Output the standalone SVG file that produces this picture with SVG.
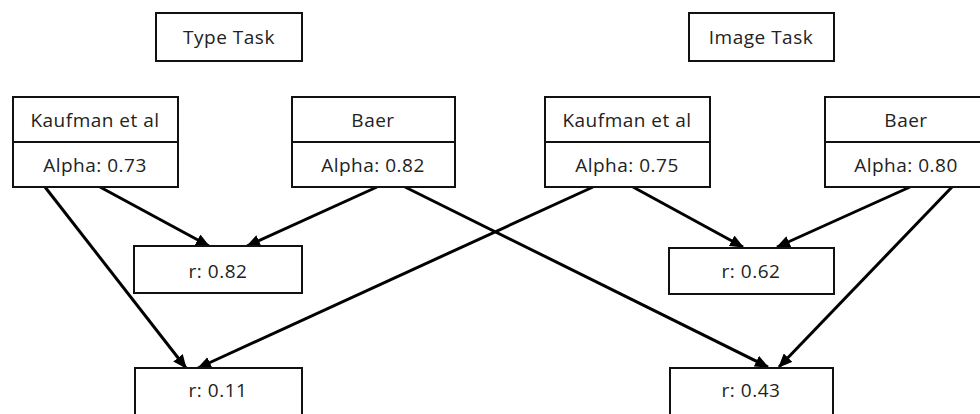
<svg xmlns="http://www.w3.org/2000/svg" width="980" height="414" viewBox="0 0 980 414">
<style>
  .box{fill:#fff;stroke:#111;stroke-width:2}
  .div{stroke:#111;stroke-width:2}
  .t{font-family:"Open Sans","DejaVu Sans",sans-serif;font-size:19px;letter-spacing:0.5px;fill:#222;text-anchor:middle}
  .c{stroke:#000;stroke-width:3;fill:none;marker-end:url(#ah)}
</style>
<defs>
  <marker id="ah" markerUnits="userSpaceOnUse" markerWidth="14" markerHeight="12" refX="13" refY="6" orient="auto">
    <path d="M0,0 L14,6 L0,12 Z" fill="#000"/>
  </marker>
</defs>
<rect width="980" height="414" fill="#fff"/>
<g id="connectors">
  <line class="c" x1="45" y1="187" x2="186" y2="368"/>
  <line class="c" x1="100" y1="187" x2="209" y2="246"/>
  <line class="c" x1="377" y1="187" x2="247" y2="246"/>
  <line class="c" x1="405" y1="187" x2="768" y2="367"/>
  <line class="c" x1="593" y1="187" x2="198" y2="368"/>
  <line class="c" x1="633" y1="187" x2="743" y2="247"/>
  <line class="c" x1="910" y1="187" x2="777" y2="247"/>
  <line class="c" x1="952" y1="187" x2="779" y2="367"/>
</g>
<g id="type-task">
  <rect class="box" x="156" y="13" width="146" height="48"/>
  <text class="t" x="229" y="44">Type Task</text>
</g>
<g id="image-task">
  <rect class="box" x="689" y="13" width="145" height="48"/>
  <text class="t" x="761" y="44">Image Task</text>
</g>
<g id="kaufman-type">
  <rect class="box" x="13" y="97" width="165" height="90"/>
  <line class="div" x1="13" y1="142" x2="178" y2="142"/>
  <text class="t" x="95" y="127">Kaufman et al</text>
  <text class="t" x="95" y="172">Alpha: 0.73</text>
</g>
<g id="baer-type">
  <rect class="box" x="292" y="97" width="163" height="90"/>
  <line class="div" x1="292" y1="142" x2="455" y2="142"/>
  <text class="t" x="373" y="127">Baer</text>
  <text class="t" x="373" y="172">Alpha: 0.82</text>
</g>
<g id="kaufman-image">
  <rect class="box" x="545" y="97" width="165" height="90"/>
  <line class="div" x1="545" y1="142" x2="710" y2="142"/>
  <text class="t" x="627" y="127">Kaufman et al</text>
  <text class="t" x="627" y="172">Alpha: 0.75</text>
</g>
<g id="baer-image">
  <rect class="box" x="825" y="97" width="163" height="90"/>
  <line class="div" x1="825" y1="142" x2="988" y2="142"/>
  <text class="t" x="906" y="127">Baer</text>
  <text class="t" x="906" y="172">Alpha: 0.80</text>
</g>
<g id="r-082">
  <rect class="box" x="134" y="246" width="168" height="47"/>
  <text class="t" x="218" y="278">r: 0.82</text>
</g>
<g id="r-062">
  <rect class="box" x="669" y="248" width="165" height="46"/>
  <text class="t" x="751" y="278">r: 0.62</text>
</g>
<g id="r-011">
  <rect class="box" x="135" y="368" width="167" height="50"/>
  <text class="t" x="218" y="397">r: 0.11</text>
</g>
<g id="r-043">
  <rect class="box" x="670" y="368" width="163" height="50"/>
  <text class="t" x="751" y="397">r: 0.43</text>
</g>
</svg>
